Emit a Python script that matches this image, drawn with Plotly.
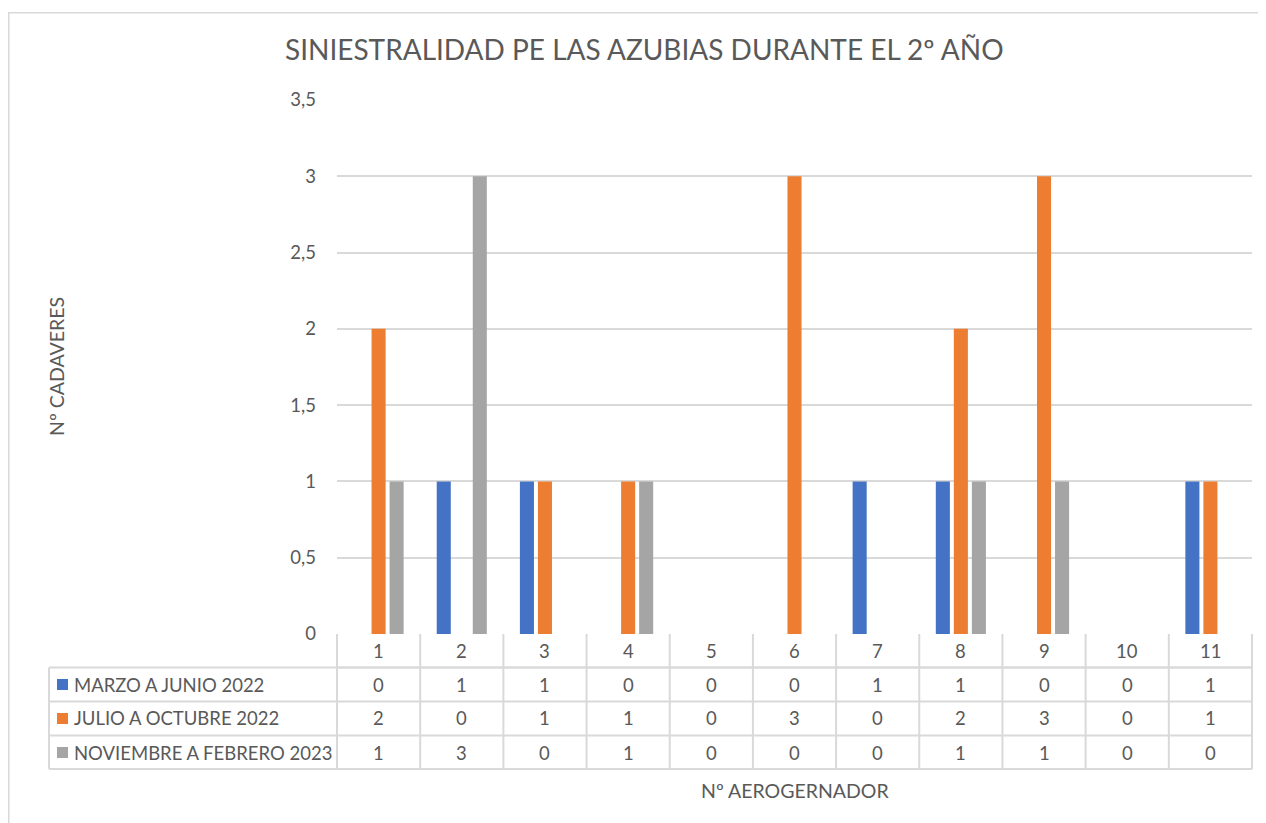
import plotly.graph_objects as go

categories = ["1", "2", "3", "4", "5", "6", "7", "8", "9", "10", "11"]
series_names = ["MARZO A JUNIO 2022", "JULIO A OCTUBRE 2022", "NOVIEMBRE A FEBRERO 2023"]
marzo_junio_2022 = [0, 1, 1, 0, 0, 0, 1, 1, 0, 0, 1]
julio_octubre_2022 = [2, 0, 1, 1, 0, 3, 0, 2, 3, 0, 1]
noviembre_febrero_2023 = [1, 3, 0, 1, 0, 0, 0, 1, 1, 0, 0]
series_values = [marzo_junio_2022, julio_octubre_2022, noviembre_febrero_2023]
colors = ["#4472C4", "#ED7D31", "#A5A5A5"]

title_text = "SINIESTRALIDAD PE LAS AZUBIAS DURANTE EL 2º AÑO"
y_title = "Nº CADAVERES"
x_title = "Nº AEROGERNADOR"

# page offset (body margin) compensation
OFF = 8
W, H = 1266, 823
L, R, T, B = 337, 1252, 100, 634   # plot area in screen pixels
FONT = "Lato"
TXT = "#595959"
GRID = "#D9D9D9"
TS = 18.5

xs = list(range(1, len(categories) + 1))


def px(xp):
    return (xp - L) / (R - L)


def py(yp):
    return (B - yp) / (B - T)


fig = go.Figure()
for name, vals, col in zip(series_names, series_values, colors):
    fig.add_trace(go.Bar(x=xs, y=vals, name=name, marker_color=col, marker_line_width=0))

shapes = []
line = dict(color=GRID, width=2)
# outer chart border
shapes.append(dict(type="rect", xref="paper", yref="paper", x0=px(8.8), x1=px(1300), y0=py(12.8), y1=py(860),
                   line=dict(color=GRID, width=1.5)))
# table horizontal lines
shapes.append(dict(type="line", xref="paper", yref="paper", x0=0, x1=1, y0=py(667.5), y1=py(667.5), line=line))
for yy in [667.5, 701.5, 735.5, 769]:
    shapes.append(dict(type="line", xref="paper", yref="paper", x0=px(49), x1=1, y0=py(yy), y1=py(yy), line=line))
# vertical lines
shapes.append(dict(type="line", xref="paper", yref="paper", x0=px(49), x1=px(49), y0=py(667.5), y1=py(769), line=line))
n = len(categories)
for k in range(n + 1):
    xx = k / n
    shapes.append(dict(type="line", xref="paper", yref="paper", x0=xx, x1=xx, y0=0, y1=py(769), line=line))

annotations = []
# header numbers
for x, c in zip(xs, categories):
    annotations.append(dict(x=x, y=py(651), xref="x", yref="paper", text=c, showarrow=False,
                            xanchor="center", yanchor="middle",
                            font=dict(family=FONT, size=TS, color=TXT)))
row_centers = [684.5, 718.5, 752.5]
for name, vals, col, rc in zip(series_names, series_values, colors, row_centers):
    shapes.append(dict(type="rect", xref="paper", yref="paper", x0=px(57), x1=px(68),
                       y0=py(rc - 5.5), y1=py(rc + 5.5), fillcolor=col, line=dict(width=0)))
    annotations.append(dict(x=px(72), y=py(rc), xref="paper", yref="paper", text=name, showarrow=False,
                            xanchor="left", yanchor="middle", font=dict(family=FONT, size=TS, color=TXT)))
    for x, v in zip(xs, vals):
        annotations.append(dict(x=x, y=py(rc), xref="x", yref="paper", text=str(v), showarrow=False,
                                xanchor="center", yanchor="middle",
                                font=dict(family=FONT, size=TS, color=TXT)))
annotations.append(dict(x=px(56), y=py(367), xref="paper", yref="paper", text=y_title, showarrow=False,
                        textangle=-90, xanchor="center", yanchor="middle",
                        font=dict(family=FONT, size=19.5, color=TXT)))
annotations.append(dict(x=px(795), y=py(790), xref="paper", yref="paper", text=x_title, showarrow=False,
                        xanchor="center", yanchor="middle", font=dict(family=FONT, size=19.5, color=TXT)))
annotations.append(dict(x=px(644), y=py(49), xref="paper", yref="paper", text=title_text, showarrow=False,
                        xanchor="center", yanchor="middle", font=dict(family=FONT, size=28, color=TXT)))

fig.update_layout(
    width=W, height=H,
    margin=dict(l=L - OFF, r=W - (R - OFF), t=T - OFF, b=H - (B - OFF), autoexpand=False),
    paper_bgcolor="white", plot_bgcolor="white",
    barmode="group", bargap=0.35, bargroupgap=0.22,
    showlegend=False,
    separators=", ",
    xaxis=dict(range=[0.5, n + 0.5], showticklabels=False, showgrid=False, zeroline=False,
               showline=False, ticks=""),
    yaxis=dict(range=[0, 3.5], dtick=0.5, tick0=0, showgrid=True, gridcolor=GRID, gridwidth=1.5,
               zeroline=False, showline=False, ticks="", ticklabelstandoff=20,
               tickfont=dict(family=FONT, size=TS, color=TXT)),
    shapes=shapes,
    annotations=annotations,
)

fig.write_html("out.html")
